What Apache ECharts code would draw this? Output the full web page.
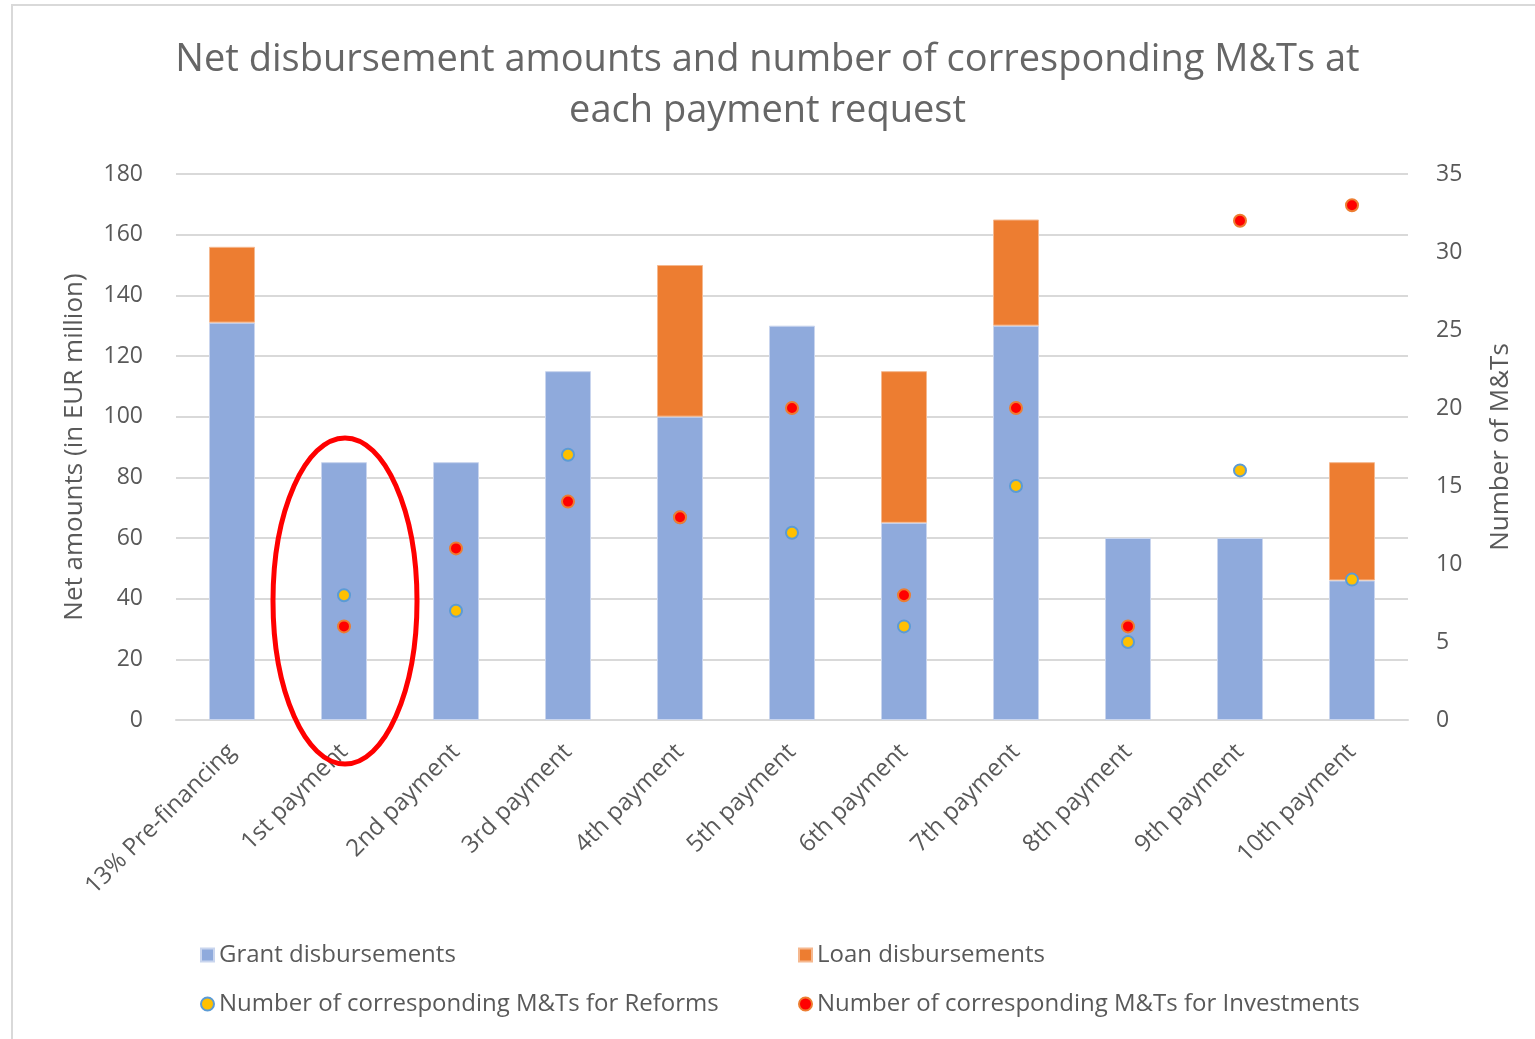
<!DOCTYPE html>
<html>
<head>
<meta charset="utf-8">
<title>Net disbursement amounts</title>
<script src="https://cdn.jsdelivr.net/npm/echarts@6/dist/echarts.min.js"></script>
<style>
    html, body { margin: 0; padding: 0; background: #fff; }
    #chart { width: 1535px; height: 1039px; }
</style>
</head>
<body>
<div id="chart"></div>
<script>
// 数据
var categories = ['13% Pre-financing', '1st payment', '2nd payment', '3rd payment', '4th payment',
    '5th payment', '6th payment', '7th payment', '8th payment', '9th payment', '10th payment'];
var grantData = [131, 85, 85, 115, 100, 130, 65, 130, 60, 60, 46];
var loanData = [25, 0, 0, 0, 50, 0, 50, 35, 0, 0, 39];
var reformsData = [null, 8, 7, 17, 13, 12, 6, 15, 5, 16, 9];
var investData = [null, 6, 11, 14, 13, 20, 8, 20, 6, 32, 33];
var leftTicks = { min: 0, max: 180, interval: 20 };
var rightTicks = { min: 0, max: 35, interval: 5 };

(function () {
    var myChart = echarts.init(document.getElementById('chart'));
    var textColor = '#595959';
    var font = 'Open Sans';
    // 贷款为0时不画柱子
    var loanBars = loanData.map(function (v) { return v === 0 ? null : v; });
    var legendText = { color: textColor, fontSize: 24, fontFamily: font };
    var option = {
        textStyle: { fontFamily: font },
        title: {
            text: 'Net disbursement amounts and number of corresponding M&Ts at\neach payment request',
            left: 'center',
            top: 30,
            textStyle: {
                color: '#666666',
                fontSize: 38,
                fontWeight: 'normal',
                fontFamily: font,
                lineHeight: 51
            }
        },
        // 图例分两列
        legend: [{
            orient: 'vertical',
            left: 195,
            top: 938,
            itemGap: 25,
            itemWidth: 13,
            itemHeight: 13,
            textStyle: legendText,
            data: [
                { name: 'Grant disbursements', icon: 'rect' },
                { name: 'Number of corresponding M&Ts for Reforms', icon: 'circle' }
            ]
        }, {
            orient: 'vertical',
            left: 793,
            top: 938,
            itemGap: 25,
            itemWidth: 13,
            itemHeight: 13,
            textStyle: legendText,
            data: [
                { name: 'Loan disbursements', icon: 'rect' },
                { name: 'Number of corresponding M&Ts for Investments', icon: 'circle' }
            ]
        }],
        grid: {
            top: 174,
            left: 176,
            right: 127,
            bottom: 319
        },
        xAxis: {
            type: 'category',
            data: categories,
            axisTick: { show: false },
            axisLine: { lineStyle: { color: '#d9d9d9', width: 2 } },
            axisLabel: {
                color: textColor,
                fontSize: 24,
                rotate: 45,
                margin: 28,
                interval: 0
            }
        },
        yAxis: [{
            type: 'value',
            min: leftTicks.min,
            max: leftTicks.max,
            interval: leftTicks.interval,
            name: 'Net amounts (in EUR million)',
            nameLocation: 'middle',
            nameGap: 88,
            nameTextStyle: { color: textColor, fontSize: 26 },
            axisLine: { show: false },
            axisTick: { show: false },
            axisLabel: { color: textColor, fontSize: 23, margin: 33 },
            splitLine: { lineStyle: { color: '#d9d9d9', width: 2 } }
        }, {
            type: 'value',
            min: rightTicks.min,
            max: rightTicks.max,
            interval: rightTicks.interval,
            name: 'Number of M&Ts',
            nameLocation: 'middle',
            nameGap: 80,
            nameTextStyle: { color: textColor, fontSize: 26 },
            axisLine: { show: false },
            axisTick: { show: false },
            axisLabel: { color: textColor, fontSize: 23, margin: 28 },
            splitLine: { show: false }
        }],
        series: [{
            name: 'Grant disbursements',
            type: 'bar',
            stack: 'amount',
            barWidth: 46,
            data: grantData,
            itemStyle: { color: '#8faadc', borderColor: '#c9d5ee', borderWidth: 1 }
        }, {
            name: 'Loan disbursements',
            type: 'bar',
            stack: 'amount',
            barWidth: 46,
            data: loanBars,
            itemStyle: { color: '#ed7d31', borderColor: '#f5b88f', borderWidth: 1 }
        }, {
            name: 'Number of corresponding M&Ts for Reforms',
            type: 'scatter',
            yAxisIndex: 1,
            symbolSize: 12,
            data: reformsData,
            itemStyle: { color: '#ffc000', borderColor: '#5b9bd5', borderWidth: 2, opacity: 1 },
            z: 3
        }, {
            name: 'Number of corresponding M&Ts for Investments',
            type: 'scatter',
            yAxisIndex: 1,
            symbolSize: 12,
            data: investData,
            itemStyle: { color: '#ff0000', borderColor: '#ed7d31', borderWidth: 2, opacity: 1 },
            z: 4
        }],
        // 外框和红色椭圆标注
        graphic: [{
            type: 'rect',
            shape: { x: 12, y: 5, width: 1540, height: 1050 },
            style: { fill: 'none', stroke: '#d9d9d9', lineWidth: 2 },
            silent: true
        }, {
            type: 'ellipse',
            shape: { cx: 345, cy: 601, rx: 72, ry: 163 },
            style: { fill: 'none', stroke: '#ff0000', lineWidth: 5 },
            z: 100,
            silent: true
        }]
    };
    myChart.setOption(option);
    window.addEventListener('resize', function () {
        myChart.resize();
    });
})();
</script>
</body>
</html>
